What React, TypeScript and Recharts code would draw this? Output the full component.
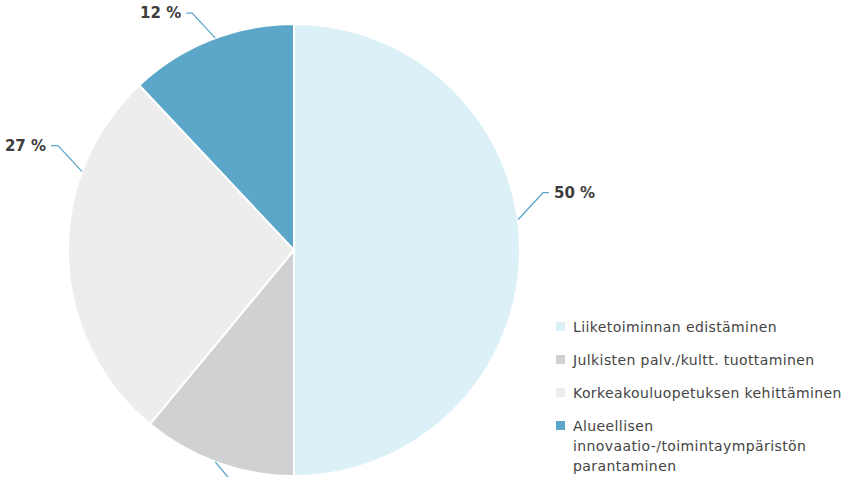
import { PieChart, Pie, Cell, Legend } from "recharts";

const categories = [
  "Liiketoiminnan edistäminen",
  "Julkisten palv./kultt. tuottaminen",
  "Korkeakouluopetuksen kehittäminen",
  "Alueellisen innovaatio-/toimintaympäristön parantaminen",
];
const shares = [50, 11, 27, 12];
const colors = ["#dcf0f8", "#d0d1d2", "#ededed", "#5ba6c9"];

const data = categories.map((name, i) => ({ name, value: shares[i] }));

// leader line layout per slice: angle on the rim, elbow offset, horizontal tail
const leaders = [
  { angle: 7.7, ex: 25, ey: -27, tail: 6, show: true },
  { angle: -110.4, ex: 20, ey: 24, tail: 6, show: false },
  { angle: 159.7, ex: -24, ey: -26, tail: -7, show: true },
  { angle: 110.4, ex: -23, ey: -25, tail: -6, show: true },
];

const RAD = Math.PI / 180;

function renderLabel(props: any) {
  const { cx, cy, outerRadius, index, value } = props;
  const l = leaders[index];
  const x0 = cx + outerRadius * Math.cos(l.angle * RAD);
  const y0 = cy - outerRadius * Math.sin(l.angle * RAD);
  const x1 = x0 + l.ex;
  const y1 = y0 + l.ey;
  const x2 = x1 + l.tail;
  const right = l.tail > 0;
  return (
    <g key={`lbl-${index}`}>
      <polyline
        points={`${x0},${y0} ${x1},${y1} ${x2},${y1}`}
        fill="none"
        stroke="#5ba6c9"
        strokeWidth={1.3}
      />
      {l.show && (
        <text
          x={x2 + (right ? 5 : -5)}
          y={y1}
          dy={5}
          textAnchor={right ? "start" : "end"}
          fill="#3d3d3d"
          fontSize={15}
          fontWeight="bold"
          fontFamily="'DejaVu Sans', sans-serif"
        >
          {`${value} %`}
        </text>
      )}
    </g>
  );
}

function LegendList() {
  return (
    <div
      style={{
        fontFamily: "'DejaVu Sans', sans-serif",
        fontSize: 14,
        color: "#444",
        letterSpacing: 0.4,
      }}
    >
      {categories.map((c, i) => (
        <div key={c} style={{ display: "flex", alignItems: "flex-start", marginBottom: 13 }}>
          <span
            style={{
              width: 9,
              height: 9,
              background: colors[i],
              marginTop: 5,
              marginRight: 8,
              flex: "none",
            }}
          />
          <span style={{ lineHeight: "20px", width: 280, whiteSpace: "nowrap" }}>
            {i === 3 ? (
              <>
                Alueellisen
                <br />
                innovaatio-/toimintaympäristön
                <br />
                parantaminen
              </>
            ) : (
              c
            )}
          </span>
        </div>
      ))}
    </div>
  );
}

export default function App() {
  return (
    <div style={{ position: "absolute", left: 0, top: 0, background: "#fff" }}>
      <PieChart width={850} height={477} margin={{ top: 0, right: 0, left: 0, bottom: 0 }}>
        <Pie
          data={data}
          dataKey="value"
          nameKey="name"
          cx={294}
          cy={250}
          outerRadius={226}
          startAngle={90}
          endAngle={-270}
          stroke="#fff"
          strokeWidth={2}
          label={renderLabel}
          labelLine={false}
          isAnimationActive={false}
        >
          {data.map((d, i) => (
            <Cell key={d.name} fill={colors[i]} />
          ))}
        </Pie>
        <Legend
          layout="vertical"
          content={() => <LegendList />}
          wrapperStyle={{ position: "absolute", left: 556, top: 317, width: 294 }}
        />
      </PieChart>
    </div>
  );
}
